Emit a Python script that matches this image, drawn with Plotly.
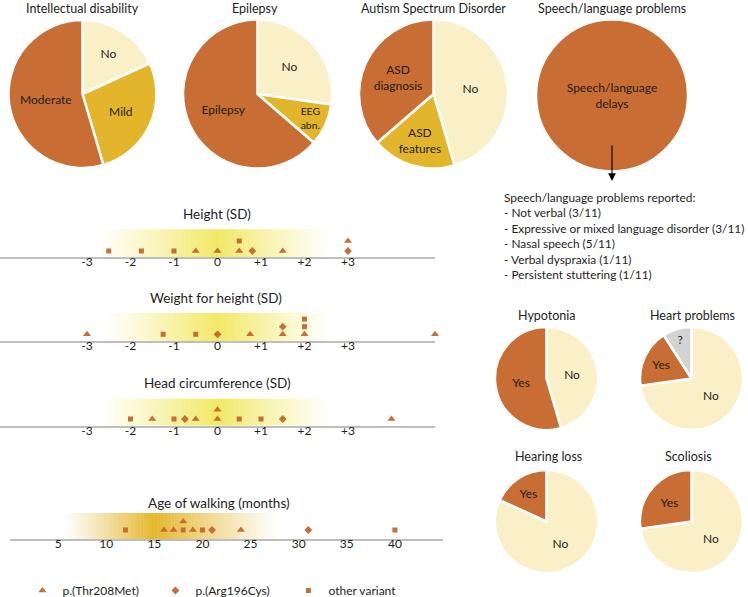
import plotly.graph_objects as go

W, H = 748, 597

RUST = "#C86D33"
GOLD = "#E3B52B"
CREAM = "#FAF0C7"
GREY = "#D3D3D3"
AXIS = "#BEBEBE"
TXT = "#1E1E1E"
FONT = "Lato"

# ---------------- data: pies ----------------
id_labels = ["No", "Mild", "Moderate"]
id_values = [2, 3, 6]
ep_labels = ["No", "EEG<br>abn.", "Epilepsy"]
ep_values = [3, 1, 7]
asd_labels = ["No", "ASD<br>features", "ASD<br>diagnosis"]
asd_values = [5, 2, 4]
sp_labels = ["Speech/language<br>delays"]
sp_values = [11]
hyp_labels = ["No", "Yes"]
hyp_values = [5, 6]
heart_labels = ["No", "Yes", "?"]
heart_values = [8, 2, 1]
hear_labels = ["No", "Yes"]
hear_values = [9, 2]
sco_labels = ["No", "Yes"]
sco_values = [8, 3]

pie_titles = ["Intellectual disability", "Epilepsy", "Autism Spectrum Disorder",
              "Speech/language problems", "Hypotonia", "Heart problems",
              "Hearing loss", "Scoliosis"]

speech_lines = [
    "Speech/language problems reported:",
    "- Not verbal (3/11)",
    "- Expressive or mixed language disorder (3/11)",
    "- Nasal speech (5/11)",
    "- Verbal dyspraxia (1/11)",
    "- Persistent stuttering (1/11)",
]

# ---------------- data: strip plots ----------------
variant_codes = ["T", "A", "O"]
variant_names = ["p.(Thr208Met)", "p.(Arg196Cys)", "other variant"]

height_sd = [-2.5, -1.75, -1, -0.5, 0, 0.5, 0.5, 0.8, 1.5, 3, 3]
height_var = ["O", "O", "O", "T", "T", "T", "O", "A", "T", "A", "T"]

weight_sd = [-3, -1.25, -0.5, 0, 0.75, 1.5, 1.5, 2, 2, 2, 5]
weight_var = ["T", "O", "O", "A", "T", "T", "A", "T", "O", "O", "T"]

head_sd = [-2, -1.5, -1, -0.75, -0.5, 0, 0, 0.5, 1, 1.5, 4]
head_var = ["O", "T", "O", "A", "T", "T", "T", "O", "O", "A", "T"]

walk_months = [12, 16, 17, 18, 18, 19, 20, 21, 24, 31, 40]
walk_var = ["O", "T", "T", "O", "T", "T", "O", "A", "T", "A", "O"]

sd_ticks = [-3, -2, -1, 0, 1, 2, 3]
sd_ticktext = ["-3", "-2", "-1", "0", "+1", "+2", "+3"]
walk_ticks = [5, 10, 15, 20, 25, 30, 35, 40]

# ---------------- styling / layout ----------------
label_colors = {"No": CREAM, "Mild": GOLD, "Moderate": RUST, "EEG<br>abn.": GOLD,
                "Epilepsy": RUST, "ASD<br>features": GOLD, "ASD<br>diagnosis": RUST,
                "Speech/language<br>delays": RUST, "Yes": RUST, "?": GREY}
symbols = {"T": ("triangle-up", 7), "A": ("diamond", 6), "O": ("square", 5)}

pie_data = [(id_labels, id_values), (ep_labels, ep_values), (asd_labels, asd_values),
            (sp_labels, sp_values), (hyp_labels, hyp_values), (heart_labels, heart_values),
            (hear_labels, hear_values), (sco_labels, sco_values)]
pie_geo = [(82.5, 94, 74), (257.5, 94, 74.5), (433.5, 94, 74.5), (612, 95.5, 76),
           (546.5, 378.5, 51.5), (691.5, 378.5, 51.5), (546.5, 521.5, 51.5), (691.5, 521.5, 51.5)]
pie_title_pos = [(82, 8), (255, 8), (433, 8), (612, 8), (547, 315), (692, 315), (548, 456), (688, 456)]


def px_x(x):
    return x / W


def px_y(y):
    return 1 - y / H


fig = go.Figure()

for (labels, values), (cx, cy, r) in zip(pie_data, pie_geo):
    fig.add_trace(go.Pie(
        labels=labels, values=values, sort=False, direction="clockwise", rotation=0,
        marker=dict(colors=[label_colors[l] for l in labels], line=dict(color="white", width=2.5)),
        textinfo="label", textposition="inside", insidetextorientation="horizontal",
        textfont=dict(family=FONT, size=12, color=TXT),
        domain=dict(x=[px_x(cx - r), px_x(cx + r)], y=[px_y(cy + r), px_y(cy - r)]),
        showlegend=False, hoverinfo="label+value",
    ))

annotations = []
for t, (tx, ty) in zip(pie_titles, pie_title_pos):
    annotations.append(dict(text=t, x=px_x(tx), y=px_y(ty), xref="paper", yref="paper",
                            showarrow=False, xanchor="center", yanchor="middle",
                            font=dict(family=FONT, size=12.5, color=TXT)))

# arrow from speech pie to the list
annotations.append(dict(text="", x=px_x(612), y=px_y(181), xref="paper", yref="paper",
                        ax=0, ay=-37, showarrow=True, arrowhead=2, arrowsize=1.4,
                        arrowwidth=1.1, arrowcolor="black"))
annotations.append(dict(text="<br>".join(speech_lines), x=px_x(502), y=px_y(188),
                        xref="paper", yref="paper", showarrow=False, xanchor="left",
                        yanchor="top", align="left",
                        font=dict(family=FONT, size=11.85, color=TXT)))

panels = [
    dict(vals=height_sd, var=height_var, title="Height (SD)", title_y=214, line_y=257.3,
         base=6.3, step=10, xdom=(0, 435), rng=(-5, 5), ticks=sd_ticks, ticktext=sd_ticktext,
         band=(-2.75, 0, 2.6), band_h=28, peak=(241, 233, 100), title_x=217),
    dict(vals=weight_sd, var=weight_var, title="Weight for height (SD)", title_y=298.3, line_y=341,
         base=6.7, step=7.6, xdom=(0, 435), rng=(-5, 5), ticks=sd_ticks, ticktext=sd_ticktext,
         band=(-2.6, 0, 2.6), band_h=28, peak=(241, 233, 100), title_x=216),
    dict(vals=head_sd, var=head_var, title="Head circumference (SD)", title_y=382.7, line_y=425.7,
         base=6.7, step=9.3, xdom=(0, 435), rng=(-5, 5), ticks=sd_ticks, ticktext=sd_ticktext,
         band=(-2.75, 0, 2.6), band_h=27, peak=(241, 233, 100), title_x=217),
    dict(vals=walk_months, var=walk_var, title="Age of walking (months)", title_y=503, line_y=539,
         base=9, step=8.6, xdom=(10, 443), rng=(0, 45), ticks=walk_ticks,
         ticktext=[str(t) for t in walk_ticks],
         band=(5.5, 15, 28), band_h=26, peak=(228, 183, 42), title_x=219),
]

shapes = []
for i, p in enumerate(panels):
    n = i + 1
    xa = "xaxis" if n == 1 else f"xaxis{n}"
    ya = "yaxis" if n == 1 else f"yaxis{n}"
    xr = "x" if n == 1 else f"x{n}"
    yr = "y" if n == 1 else f"y{n}"
    dom_y = [px_y(p["line_y"]), px_y(p["line_y"] - 32)]
    fig.layout[xa] = dict(domain=[px_x(p["xdom"][0]), px_x(p["xdom"][1])], range=list(p["rng"]),
                          anchor=yr, showline=True, linecolor=AXIS, linewidth=1.5,
                          showgrid=False, zeroline=False, ticks="", ticklabelstandoff=-7,
                          tickvals=p["ticks"], ticktext=p["ticktext"], automargin=False,
                          tickfont=dict(family=FONT, size=12, color=TXT), fixedrange=True)
    fig.layout[ya] = dict(domain=dom_y, range=[0, 32], anchor=xr, visible=False, fixedrange=True)

    # stacking of identical values
    seen = {}
    ys = []
    for v in p["vals"]:
        k = seen.get(v, 0)
        seen[v] = k + 1
        ys.append(p["base"] + k * p["step"])
    for code, name in zip(variant_codes, variant_names):
        xs = [v for v, c in zip(p["vals"], p["var"]) if c == code]
        yy = [y for y, c in zip(ys, p["var"]) if c == code]
        sym, sz = symbols[code]
        fig.add_trace(go.Scatter(x=xs, y=yy, mode="markers", xaxis=xr, yaxis=yr, name=name,
                                 legendgroup=name, showlegend=(i == 0), cliponaxis=False,
                                 marker=dict(symbol=sym, size=sz, color=RUST, line=dict(width=0))))

    # gradient band (decoration)
    lo, c0, hi = p["band"]
    steps = 140
    dx = (hi - lo) / steps
    for s in range(steps):
        xv = lo + (s + 0.5) * dx
        if xv < c0:
            t = (xv - lo) / (c0 - lo)
        else:
            t = (hi - xv) / (hi - c0)
        t = max(0.0, min(1.0, t)) ** 1.1
        pr, pg, pb = p["peak"]
        col = "rgb(%d,%d,%d)" % (round(255 + (pr - 255) * t), round(255 + (pg - 255) * t),
                                 round(255 + (pb - 255) * t))
        shapes.append(dict(type="rect", xref=xr, yref=yr, x0=lo + s * dx, x1=lo + (s + 1) * dx + dx * 0.3,
                           y0=0, y1=p["band_h"], fillcolor=col, line=dict(width=0), layer="below"))

    annotations.append(dict(text=p["title"], x=px_x(p["title_x"]), y=px_y(p["title_y"]),
                            xref="paper", yref="paper", showarrow=False, xanchor="center",
                            yanchor="middle", font=dict(family=FONT, size=13.5, color=TXT)))

fig.update_layout(
    width=W, height=H, margin=dict(l=0, r=0, t=0, b=0, autoexpand=False),
    paper_bgcolor="white", plot_bgcolor="rgba(0,0,0,0)",
    font=dict(family=FONT, color=TXT),
    shapes=shapes, annotations=annotations,
    legend=dict(orientation="h", x=0.03, y=-0.0134, xanchor="left", yanchor="bottom",
                font=dict(family=FONT, size=12, color=TXT), entrywidth=88,
                bgcolor="rgba(0,0,0,0)"),
)

fig.write_html("out.html", post_script="document.body.style.margin='0';",
               config={"displayModeBar": False})
